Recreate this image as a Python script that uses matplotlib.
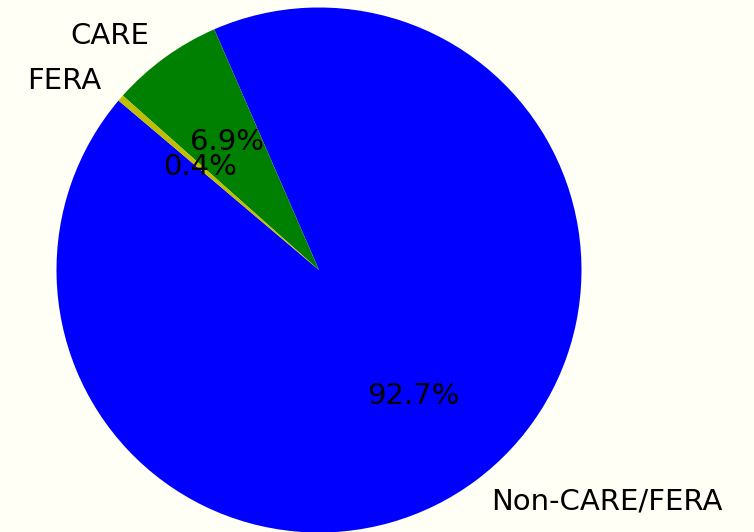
import matplotlib
matplotlib.use('Agg')
import matplotlib.pyplot as plt

labels = ['Non-CARE/FERA', 'CARE', 'FERA']
shares = [92.7, 6.9, 0.4]
colors = ['b', 'g', 'y']

fig = plt.figure(figsize=(7.54, 5.32), dpi=100, facecolor='#fffff6')
# axes placed so the pie sits like in the original (centre ~ (319, 270) px)
ax = fig.add_axes([56.5 / 754, -0.5 / 532, 525 / 754, 525 / 532])
ax.set_facecolor('#fffff6')

ax.pie(shares, labels=labels, colors=colors, autopct='%1.1f%%',
       startangle=139.8, textprops={'fontsize': 21})
ax.set_xlim(-1, 1)
ax.set_ylim(-1, 1)
ax.set_aspect('equal')

fig.savefig('out.png', dpi=100, facecolor=fig.get_facecolor())
